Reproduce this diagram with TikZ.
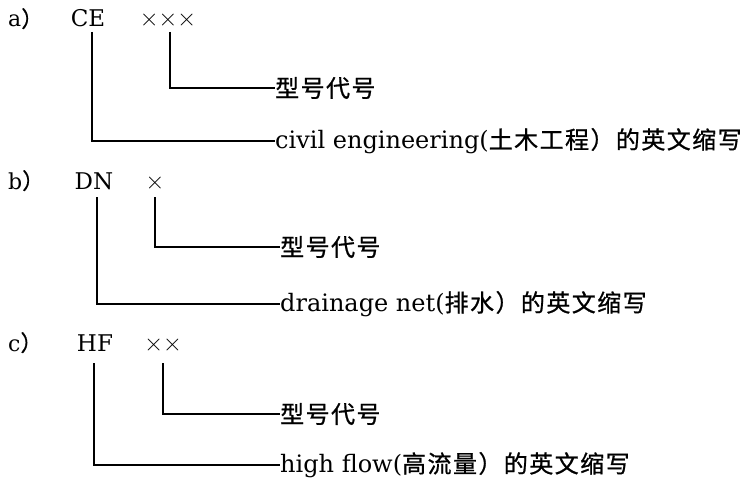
\documentclass[tikz,border=0pt]{standalone}
\usepackage{fontspec}
\newfontfamily\lat{DejaVu Serif}
\newfontfamily\cjk[LetterSpace=6,FakeBold=0.8]{Noto Sans CJK SC}
\begin{document}
\begin{tikzpicture}[x=1pt,y=-1pt,
  code/.style={inner sep=0pt,anchor=base,font=\fontsize{23}{26}\selectfont\lat},
  rowlab/.style={inner sep=0pt,anchor=base west,font=\fontsize{22}{26}\selectfont\lat},
  crosses/.style={inner sep=0pt,anchor=base,font=\fontsize{26}{28}\selectfont},
  lab/.style={inner sep=0pt,anchor=west,font=\fontsize{24}{26}\selectfont\lat},
  conn/.style={line width=1.2pt,black}]
\useasboundingbox (0,0) rectangle (754,495);
% row a
\node[rowlab] (la) at (8,27) {a{\cjk ）}};
\node[code] (ce) at (88,27) {CE};
\node[crosses] (xa) at (168,27) {×××};
\node[lab] (ma) at (275,88) {\cjk 型号代号};
\node[lab] (ca) at (275,141) {civil engineering({\cjk 土木工程）的英文缩写}};
\draw[conn] ([xshift=4pt,yshift=-5pt]ce.base) |- (ca.west);
\draw[conn] ([xshift=2pt,yshift=-5pt]xa.base) |- (ma.west);
% row b
\node[rowlab] (lb) at (8,189) {b{\cjk ）}};
\node[code] (dn) at (94,189) {DN};
\node[crosses] (xb) at (155,189) {×};
\node[lab] (mb) at (280,247) {\cjk 型号代号};
\node[lab] (cb) at (280,304) {drainage net({\cjk 排水）的英文缩写}};
\draw[conn] ([xshift=3pt,yshift=-8pt]dn.base) |- (cb.west);
\draw[conn] ([yshift=-8pt]xb.base) |- (mb.west);
% row c
\node[rowlab] (lc) at (8,351) {c{\cjk ）}};
\node[code] (hf) at (95,351) {HF};
\node[crosses] (xc) at (163,351) {××};
\node[lab] (mc) at (280,414) {\cjk 型号代号};
\node[lab] (cc) at (280,465) {high flow({\cjk 高流量）的英文缩写}};
\draw[conn] ([xshift=-1pt,yshift=-12pt]hf.base) |- (cc.west);
\draw[conn] ([yshift=-12pt]xc.base) |- (mc.west);
\end{tikzpicture}
\end{document}
